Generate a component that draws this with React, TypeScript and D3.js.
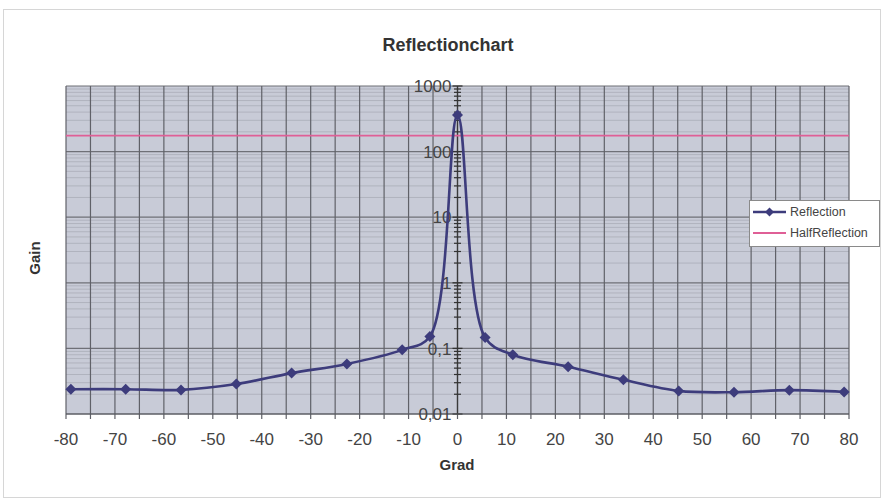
import React from "react";
import * as d3 from "d3";

const grad: number[] = [-79, -67.8, -56.5, -45.2, -33.9, -22.6, -11.3, -5.65, 0, 5.65, 11.3, 22.6, 33.9, 45.2, 56.5, 67.8, 79];
const reflection: number[] = [0.0239, 0.0239, 0.0233, 0.0286, 0.042, 0.058, 0.095, 0.152, 360, 0.146, 0.08, 0.0526, 0.0333, 0.0225, 0.0215, 0.0231, 0.0217];
const halfGrad: number[] = [-80, 80];
const halfReflection: number[] = [175, 175];
const xTicks: number[] = [-80, -70, -60, -50, -40, -30, -20, -10, 0, 10, 20, 30, 40, 50, 60, 70, 80];
const yTicks: number[] = [0.01, 0.1, 1, 10, 100, 1000];
const yTickLabels: string[] = ["0,01", "0,1", "1", "10", "100", "1000"];
const seriesNames: string[] = ["Reflection", "HalfReflection"];

const W = 884;
const H = 504;
const FONT = "'Liberation Sans', Arial, sans-serif";

export default function App() {
  const x = d3.scaleLinear().domain([-80, 80]).range([66, 849]);
  const y = d3.scaleLog().domain([0.01, 1000]).range([414, 86]);
  const [x0, x1] = x.range();
  const [yb, yt] = y.range();

  const minorVals: number[] = [];
  for (let d = 0.01; d < 1000; d *= 10) {
    for (let k = 2; k <= 9; k++) minorVals.push(+(d * k).toPrecision(3));
  }
  const vGrid = d3.range(-80, 81, 5);

  const pts: [number, number][] = grad.map((g, i) => [x(g), y(reflection[i])]);
  const line = d3.line<[number, number]>().curve(d3.curveCatmullRom.alpha(0.5));
  const pathD = line(pts) || "";

  const diamond = (cx: number, cy: number, r = 5.5) =>
    `M${cx},${cy - r}L${cx + r},${cy}L${cx},${cy + r}L${cx - r},${cy}Z`;

  const navy = "#3d3c7c";
  const pink = "#df5f96";
  const axisX = x(0);

  return (
    <svg width={W} height={H} style={{ position: "absolute", left: 0, top: 0, background: "#fff" }}>
      <rect x={3.5} y={9.5} width={877} height={488} fill="#fff" stroke="#d6d6d6" />
      <rect x={x0} y={yt} width={x1 - x0} height={yb - yt} fill="#c8cbd7" />
      {minorVals.map((v, i) => (
        <line key={"hm" + i} x1={x0} x2={x1} y1={y(v)} y2={y(v)} stroke="#b0b3be" strokeWidth={1} />
      ))}
      {yTicks.map((v, i) => (
        <line key={"hM" + i} x1={x0} x2={x1} y1={y(v)} y2={y(v)} stroke="#6f7077" strokeWidth={1.2} />
      ))}
      {vGrid.map((v, i) => (
        <line key={"v" + i} x1={x(v)} x2={x(v)} y1={yt} y2={yb + 5} stroke="#606168" strokeWidth={1.2} />
      ))}
      {/* y axis at x = 0 */}
      <line x1={axisX} x2={axisX} y1={yt} y2={yb} stroke="#3a3a3a" strokeWidth={1.3} />
      {minorVals.map((v, i) => (
        <line key={"mt" + i} x1={axisX - 3.5} x2={axisX + 3.5} y1={y(v)} y2={y(v)} stroke="#333" strokeWidth={1.2} />
      ))}
      {yTicks.map((v, i) => (
        <line key={"Mt" + i} x1={axisX - 5} x2={axisX + 5} y1={y(v)} y2={y(v)} stroke="#333" strokeWidth={1.3} />
      ))}
      {/* x axis */}
      <line x1={x0} x2={x1} y1={yb} y2={yb} stroke="#55565c" strokeWidth={1.2} />
      {yTicks.map((v, i) => (
        <text key={"yl" + i} x={axisX - 6} y={y(v)} dy="0.36em" textAnchor="end" fontFamily={FONT} fontSize={17} fill="#444">
          {yTickLabels[i]}
        </text>
      ))}
      {xTicks.map((v, i) => (
        <text key={"xl" + i} x={x(v)} y={yb + 31} textAnchor="middle" fontFamily={FONT} fontSize={17} fill="#444">
          {v}
        </text>
      ))}
      {/* series */}
      <line x1={x(halfGrad[0])} x2={x(halfGrad[1])} y1={y(halfReflection[0])} y2={y(halfReflection[1])} stroke={pink} strokeWidth={1.8} />
      <path d={pathD} fill="none" stroke={navy} strokeWidth={2.6} />
      {pts.map((p, i) => (
        <path key={"m" + i} d={diamond(p[0], p[1])} fill={navy} />
      ))}
      {/* titles */}
      <text x={448} y={51} textAnchor="middle" fontFamily={FONT} fontSize={18} fontWeight="bold" fill="#333">
        Reflectionchart
      </text>
      <text x={457} y={470} textAnchor="middle" fontFamily={FONT} fontSize={15} fontWeight="bold" fill="#333">
        Grad
      </text>
      <text transform={`translate(40,258) rotate(-90)`} textAnchor="middle" fontFamily={FONT} fontSize={15} fontWeight="bold" fill="#333">
        Gain
      </text>
      {/* legend */}
      <rect x={749.5} y={200.5} width={130} height={46} fill="#fff" stroke="#8a8a8a" />
      <line x1={753} x2={786} y1={212} y2={212} stroke={navy} strokeWidth={2.4} />
      <path d={diamond(769.5, 212, 4.5)} fill={navy} />
      <text x={790} y={212} dy="0.35em" fontFamily={FONT} fontSize={12.5} fill="#444">{seriesNames[0]}</text>
      <line x1={753} x2={786} y1={233} y2={233} stroke={pink} strokeWidth={1.8} />
      <text x={790} y={233} dy="0.35em" fontFamily={FONT} fontSize={12.5} fill="#444">{seriesNames[1]}</text>
    </svg>
  );
}
